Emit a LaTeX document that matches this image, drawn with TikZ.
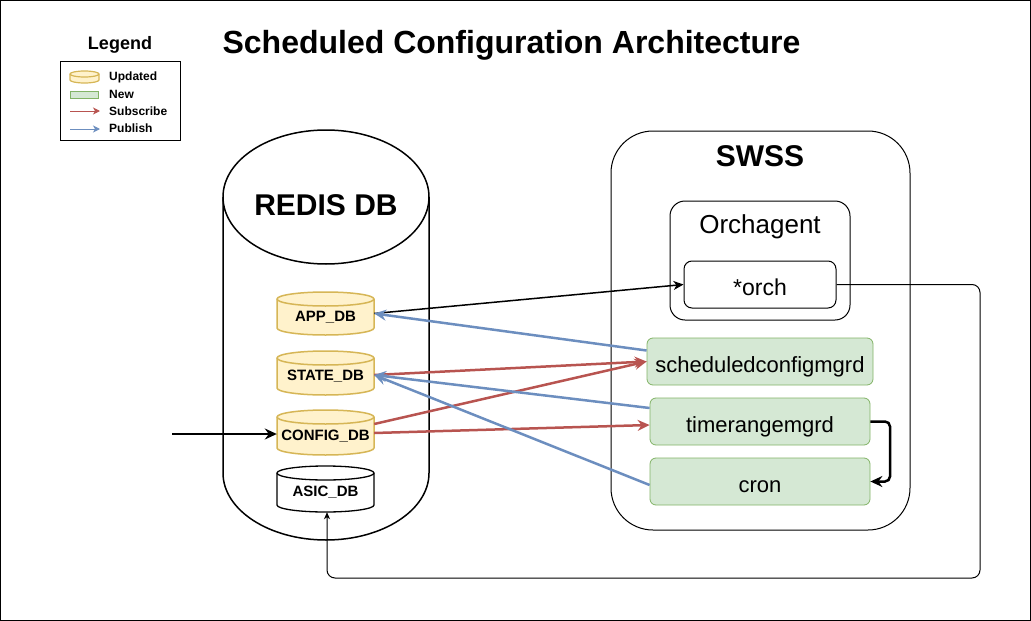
\documentclass[tikz,border=0pt]{standalone}
\usepackage{fontspec}
\setmainfont{Liberation Sans}
\usetikzlibrary{arrows.meta,calc}
\definecolor{yfill}{HTML}{FFF2CC}
\definecolor{ystroke}{HTML}{D6B656}
\definecolor{gfill}{HTML}{D5E8D4}
\definecolor{gstroke}{HTML}{82B366}
\definecolor{subred}{HTML}{B85450}
\definecolor{pubblue}{HTML}{6C8EBF}
\newcommand\cylpath[6]{%
 \pgfmathsetmacro\cylrx{(#4-#2)/2}%
 \path[#1] (#2,#3+#6) -- (#2,#5-#6) arc[start angle=180,end angle=360,x radius=\cylrx pt,y radius=#6 pt] -- (#4,#3+#6) arc[start angle=0,end angle=180,x radius=\cylrx pt,y radius=#6 pt] -- cycle;
 \path[#1,fill=none] (#2,#3+#6) arc[start angle=180,end angle=360,x radius=\cylrx pt,y radius=#6 pt];
}
\tikzset{
 ydb/.style={draw=ystroke,fill=yfill,line width=1.5pt},
 wdb/.style={draw=black,fill=white,line width=1.3pt},
 dblabel/.style={font=\fontsize{15}{17}\selectfont\bfseries,inner sep=0pt,text height=15pt,text depth=0pt},
 newbox/.style={draw=gstroke,fill=gfill,rounded corners=6pt,line width=0.8pt,font=\fontsize{22}{26}\selectfont,inner sep=0pt,text height=21.5pt,text depth=0pt},
 pub/.style={draw=pubblue,line width=2.5pt,-{Stealth[length=12pt,width=11pt,inset=4pt]}},
 sub/.style={draw=subred,line width=2.5pt,-{Stealth[length=12pt,width=11pt,inset=4pt]}},
 blk/.style={draw=black,line width=2.5pt,-{Stealth[length=12pt,width=11pt,inset=4pt]}},
 legtxt/.style={font=\fontsize{12}{14}\selectfont\bfseries,anchor=west,inner sep=0pt},
}
\begin{document}
\begin{tikzpicture}[x=1pt,y=-1pt]
\useasboundingbox (0,0) rectangle (1031,621);
\draw[line width=1pt] (0.5,0.5) rectangle (1030.5,620.5);
% title
\node[font=\fontsize{32}{38}\selectfont\bfseries] (title) at (511.5,45) {Scheduled Configuration Architecture};
% legend
\node[font=\fontsize{18}{21}\selectfont\bfseries] (legtitle) at (120,45) {Legend};
\draw[line width=1pt] (60,61) rectangle (180,140);
\cylpath{ydb,line width=1.2pt}{70}{71}{99}{83}{3}
\node[legtxt] (legupd) at (109,77) {Updated};
\draw[draw=gstroke,fill=gfill,line width=0.8pt] (70,91) rectangle (98,98);
\node[legtxt] (legnew) at (109,94) {New};
\coordinate (lsa) at (70,111); \coordinate (lsb) at (100,111);
\draw[draw=subred,line width=1pt,-{Stealth[length=7pt,width=7pt,inset=2pt]}] (lsa) -- (lsb);
\node[legtxt] (legsub) at (109,111) {Subscribe};
\coordinate (lpa) at (70,129); \coordinate (lpb) at (100,129);
\draw[draw=pubblue,line width=1pt,-{Stealth[length=7pt,width=7pt,inset=2pt]}] (lpa) -- (lpb);
\node[legtxt] (legpub) at (109,128) {Publish};
% REDIS DB
\cylpath{draw=black,fill=white,line width=1.5pt}{223}{130}{429}{540}{67}
\node[minimum width=206pt,minimum height=410pt,inner sep=0pt] (redis) at (326,335) {};
\node[font=\fontsize{30}{36}\selectfont\bfseries] (redistitle) at (326,205) {REDIS DB};
% small DBs
\cylpath{ydb}{277}{292}{374}{335}{7}
\node[dblabel,minimum width=97pt,minimum height=43pt] (app) at (325.5,313.5) {APP\_DB};
\cylpath{ydb}{277}{351}{374}{395}{7}
\node[dblabel,minimum width=97pt,minimum height=44pt] (state) at (325.5,373) {STATE\_DB};
\cylpath{ydb}{277}{410}{374}{455}{7}
\node[dblabel,minimum width=97pt,minimum height=45pt] (config) at (325.5,433) {CONFIG\_DB};
\cylpath{wdb}{277}{466}{374}{512}{7}
\node[dblabel,minimum width=97pt,minimum height=46pt] (asic) at (325.5,489) {ASIC\_DB};
% SWSS
\draw[line width=1pt,rounded corners=42pt] (611,131) rectangle (910,530);
\node[minimum width=299pt,minimum height=399pt,inner sep=0pt] (swss) at (760.5,330.5) {};
\node[font=\fontsize{30}{36}\selectfont\bfseries] (swsstitle) at (760,156) {SWSS};
\draw[line width=1pt,rounded corners=15pt] (670,201) rectangle (850,320);
\node[font=\fontsize{26}{31}\selectfont] (orchagent) at (760,227) {Orchagent};
\node[draw=black,line width=1pt,rounded corners=8pt,minimum width=152pt,minimum height=47pt,inner sep=0pt,font=\fontsize{23}{27}\selectfont,text height=21.5pt,text depth=0pt] (orch) at (760,284.5) {*orch};
\node[newbox,minimum width=226pt,minimum height=47pt] (sched) at (760,361.5) {scheduledconfigmgrd};
\node[newbox,minimum width=220pt,minimum height=47pt] (timer) at (760,421.5) {timerangemgrd};
\node[newbox,minimum width=220pt,minimum height=47pt] (cron) at (760,481.5) {cron};
% connectors
\draw[line width=1.5pt,-{Stealth[length=10pt,width=9pt,inset=3pt]}] (app.east) -- (orch.west);
\draw[pub] ($(sched.west)+(0,-11)$) -- (app.east);
\draw[sub] ($(state.east)+(0,2)$) -- (sched.west);
\draw[sub] ($(config.east)+(0,-9)$) -- (sched.west);
\draw[sub] (config.east) -- ($(timer.west)+(0,3.5)$);
\draw[pub] ($(timer.west)+(0,-13.5)$) -- ($(state.east)+(0,2)$);
\draw[pub] ($(cron.west)+(0,3.5)$) -- ($(state.east)+(0,2)$);
\coordinate (in) at (172,434);
\draw[blk] (in) -- ($(config.west)+(0,1)$);
\draw[blk,rounded corners=5pt] (timer.east) -- (890,421.5) -- (890,481.5) -- (cron.east);
\coordinate (c1) at (980,284.5); \coordinate (c2) at (980,578); \coordinate (c3) at (327,578);
\draw[line width=1pt,rounded corners=8pt,-{Stealth[length=7pt,width=6pt,inset=2pt]}] (orch.east) -- (c1) -- (c2) -- (c3) -- (asic.south -| c3);
\end{tikzpicture}
\end{document}
